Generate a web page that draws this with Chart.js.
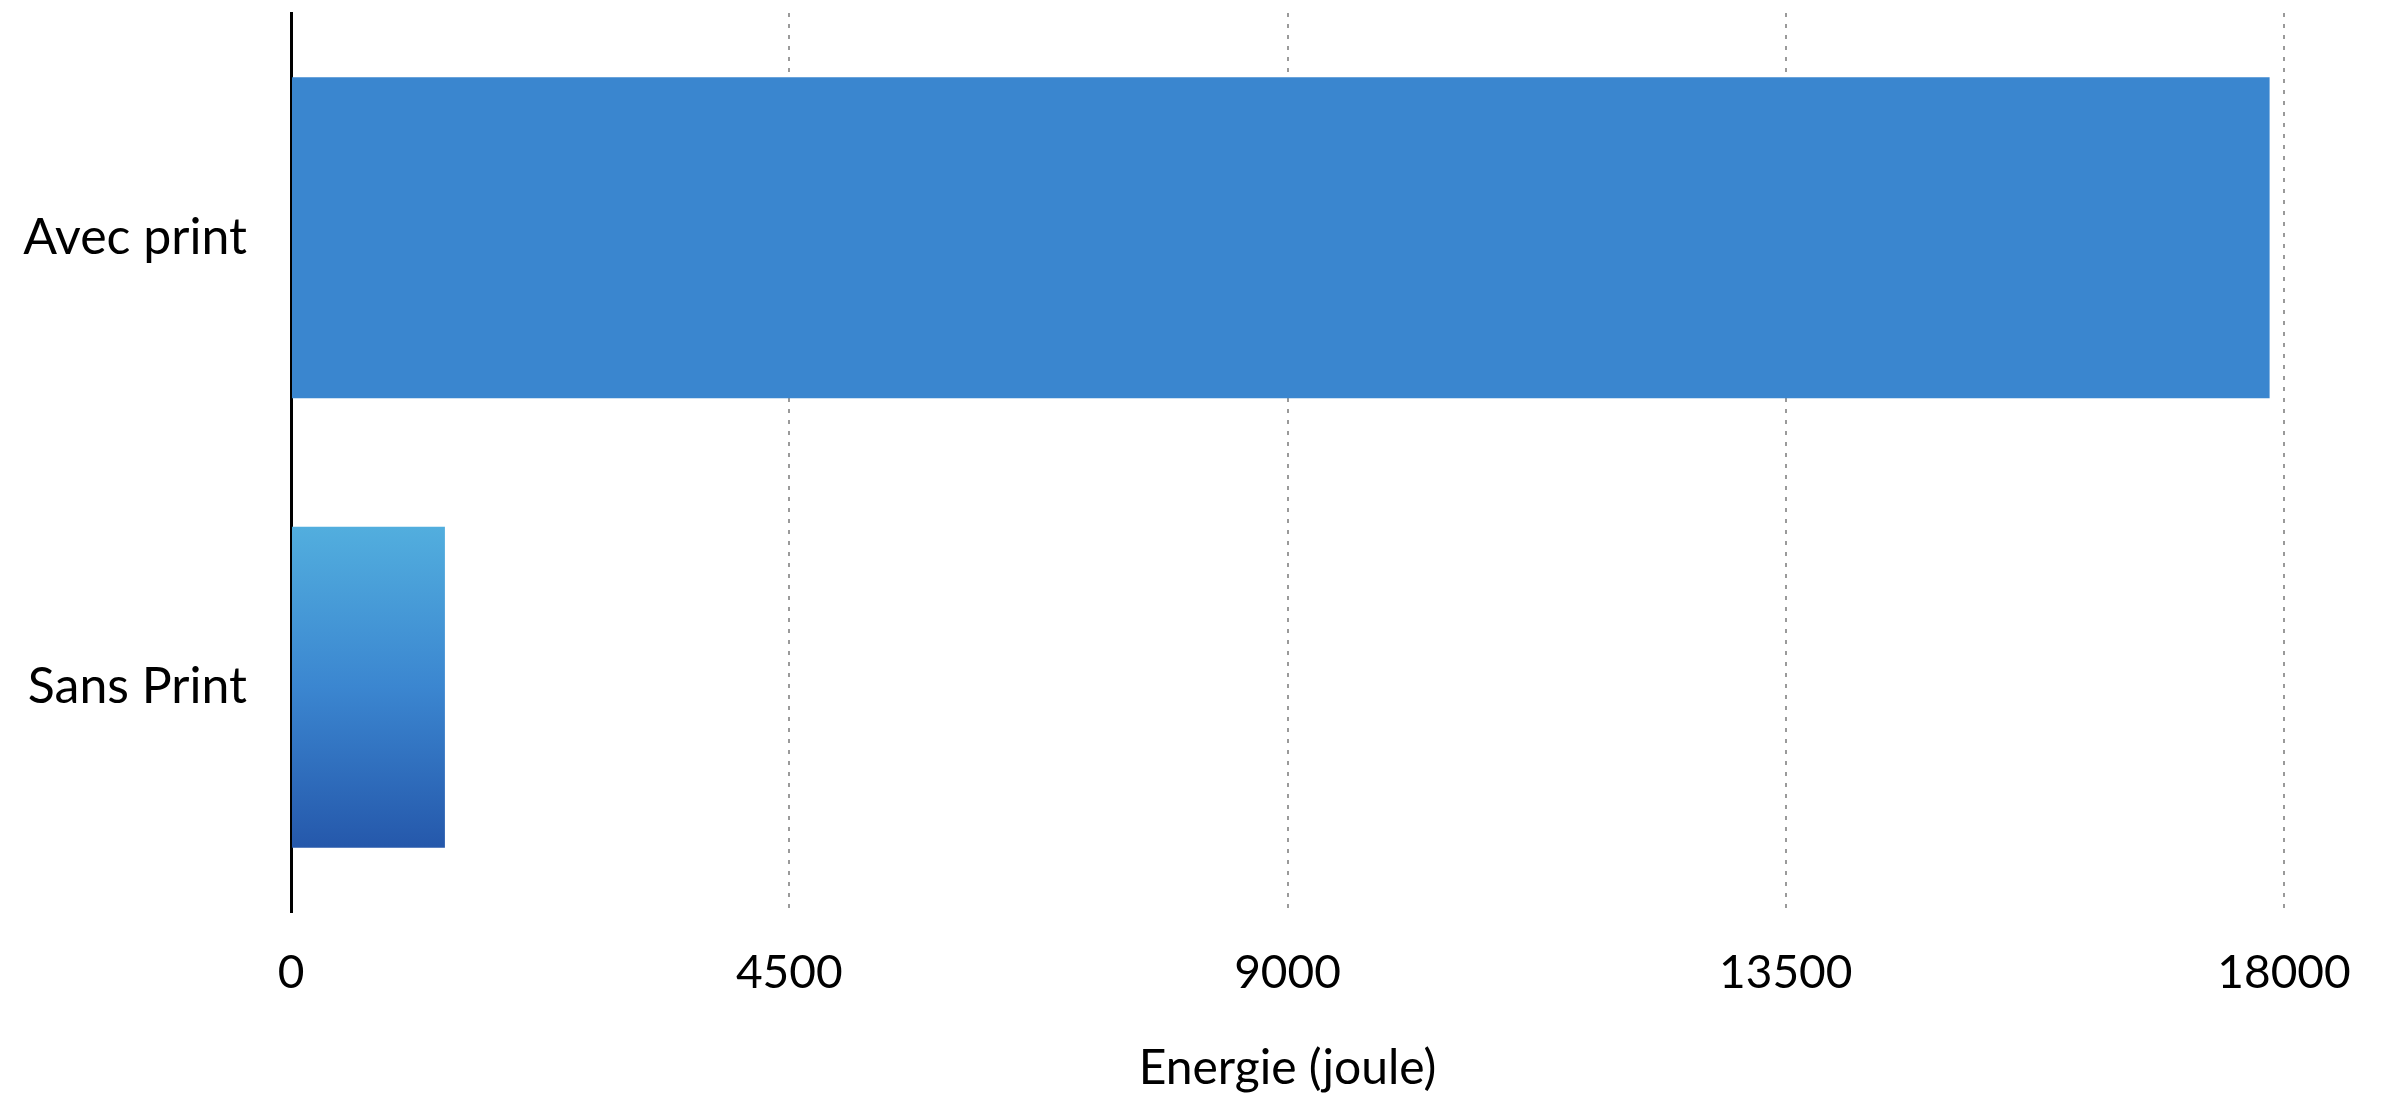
<!DOCTYPE html>
<html lang="fr">
<head>
<meta charset="utf-8">
<title>Energie (joule)</title>
<script src="https://cdn.jsdelivr.net/npm/chart.js@4/dist/chart.umd.min.js"></script>
<style>
  html, body { margin: 0; padding: 0; background: #ffffff; overflow: hidden; }
  #wrap { width: 2385px; height: 1093px; position: relative; }
  #chart { display: block; }
</style>
</head>
<body>
<div id="wrap"><canvas id="chart"></canvas></div>
<script>
// Energy consumed by the program, with and without print statements
const categories = ['Avec print', 'Sans Print'];
const energyJoules = [17870, 1390];
const xTicks = [0, 4500, 9000, 13500, 18000];
const axisTitle = 'Energie (joule)';

const FONT = 'Lato, "Open Sans", sans-serif';
const BAR_FRACTION = 0.714;

// Fill for each bar: flat blue for the first, vertical light-to-dark gradient for the second
function barFill(c) {
  const chart = c.chart;
  if (!chart.chartArea) return '#3a86cf';
  if (c.dataIndex === 0) return '#3a86cf';
  const y = chart.scales.y;
  const centre = y.getPixelForValue(c.dataIndex);
  const half = (y.height / categories.length) * BAR_FRACTION / 2;
  const g = chart.ctx.createLinearGradient(0, centre - half, 0, centre + half);
  g.addColorStop(0, '#52aede');
  g.addColorStop(0.5, '#3b86d0');
  g.addColorStop(1, '#2558ab');
  return g;
}

new Chart(document.getElementById('chart'), {
  type: 'bar',
  data: {
    labels: categories,
    datasets: [{
      data: energyJoules,
      backgroundColor: barFill,
      borderWidth: 0,
      categoryPercentage: 1,
      barPercentage: BAR_FRACTION
    }]
  },
  options: {
    indexAxis: 'y',
    responsive: true,
    maintainAspectRatio: false,
    devicePixelRatio: 1,
    animation: false,
    layout: { padding: { top: 13, right: 101, bottom: 0, left: 0 } },
    plugins: { legend: { display: false }, tooltip: { enabled: false } },
    scales: {
      x: {
        type: 'linear',
        min: 0,
        max: 18000,
        afterBuildTicks: (scale) => { scale.ticks = xTicks.map(v => ({ value: v })); },
        afterFit: (scale) => { scale.height = 181; scale.paddingLeft = 0; scale.paddingRight = 0; },
        grid: {
          display: true,
          drawTicks: false,
          lineWidth: 2,
          color: (c) => (c.tick && c.tick.value === 0) ? 'rgba(0,0,0,0)' : '#9a9a9a'
        },
        border: { display: false, dash: [4, 7] },
        ticks: {
          color: '#000000',
          padding: 34,
          font: { family: FONT, size: 46 },
          maxRotation: 0,
          callback: (v) => String(v)
        },
        title: {
          display: true,
          text: axisTitle,
          color: '#000000',
          font: { family: FONT, size: 48, lineHeight: 1 },
          padding: { top: 0, bottom: 0 }
        }
      },
      y: {
        type: 'category',
        afterFit: (scale) => { scale.width = 291; scale.paddingTop = 0; scale.paddingBottom = 0; },
        grid: { display: false, drawTicks: false },
        border: { display: true, color: '#000000', width: 3 },
        ticks: {
          color: '#000000',
          padding: 44,
          font: { family: FONT, size: 50 }
        }
      }
    }
  }
});
</script>
</body>
</html>
